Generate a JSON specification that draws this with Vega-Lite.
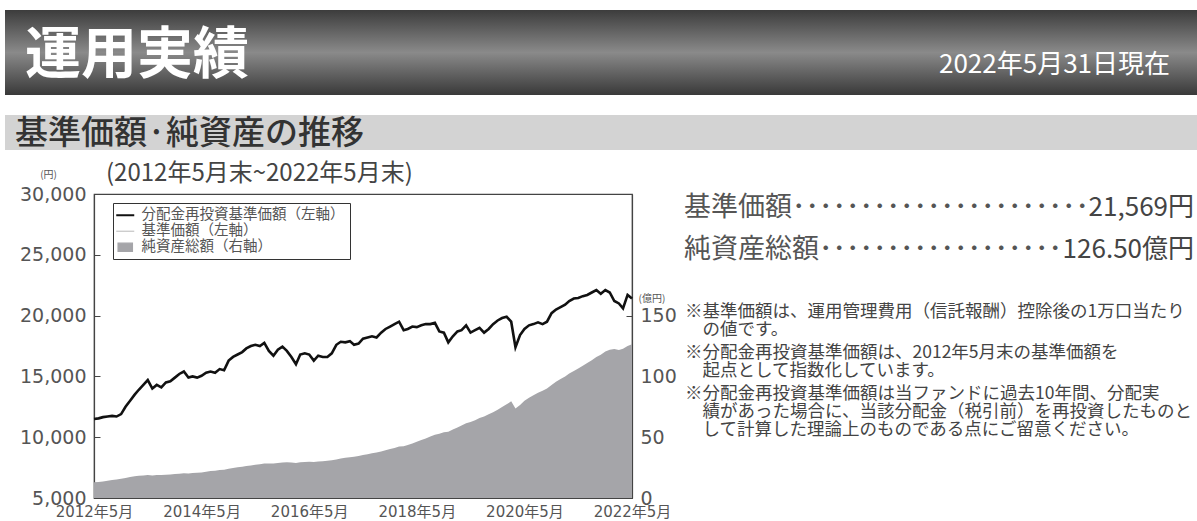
{
  "$schema": "https://vega.github.io/schema/vega-lite/v6.json",
  "padding": {"left": 5, "top": 10, "right": 0, "bottom": 0},
  "background": "white",
  "config": {
    "font": "Noto Sans CJK JP",
    "view": {"stroke": null},
    "title": {"fontWeight": "normal"}
  },
  "datasets": {
    "header": [
      {"role": "title", "text": "運用実績"},
      {"role": "date", "text": "2022年5月31日現在"}
    ],
    "sub": [{"text": "基準価額·純資産の推移"}],
    "summary": [
      {"label": "基準価額", "leader": "基準価額･･････････････････････", "value": "21,569円"},
      {"label": "純資産総額", "leader": "純資産総額･･････････････････", "value": "126.50億円"}
    ],
    "notes": [
      {"note": 1, "lines": ["※基準価額は、運用管理費用（信託報酬）控除後の1万口当たり", "\u200b\u3000の値です。"]},
      {"note": 2, "lines": ["※分配金再投資基準価額は、2012年5月末の基準価額を", "\u200b\u3000起点として指数化しています。"]},
      {"note": 3, "lines": ["※分配金再投資基準価額は当ファンドに過去10年間、分配実", "\u200b\u3000績があった場合に、当該分配金（税引前）を再投資したものと", "\u200b\u3000して計算した理論上のものである点にご留意ください。"]}
    ],
    "perf": [
      {"date": "2012-05-01", "reinvest": 11500, "nav": 11500, "assets": 13.0},
      {"date": "2012-06-01", "reinvest": 11550, "nav": 11550, "assets": 13.2},
      {"date": "2012-07-01", "reinvest": 11650, "nav": 11650, "assets": 13.5},
      {"date": "2012-08-01", "reinvest": 11700, "nav": 11700, "assets": 14.2},
      {"date": "2012-09-01", "reinvest": 11750, "nav": 11750, "assets": 14.8},
      {"date": "2012-10-01", "reinvest": 11700, "nav": 11700, "assets": 15.3},
      {"date": "2012-11-01", "reinvest": 11900, "nav": 11900, "assets": 15.8},
      {"date": "2012-12-01", "reinvest": 12500, "nav": 12500, "assets": 16.5},
      {"date": "2013-01-01", "reinvest": 13000, "nav": 13000, "assets": 17.2},
      {"date": "2013-02-01", "reinvest": 13500, "nav": 13500, "assets": 17.8},
      {"date": "2013-03-01", "reinvest": 13900, "nav": 13900, "assets": 18.3},
      {"date": "2013-04-01", "reinvest": 14300, "nav": 14300, "assets": 18.6},
      {"date": "2013-05-01", "reinvest": 14700, "nav": 14700, "assets": 19.0},
      {"date": "2013-06-01", "reinvest": 14000, "nav": 14000, "assets": 18.6},
      {"date": "2013-07-01", "reinvest": 14300, "nav": 14300, "assets": 18.9},
      {"date": "2013-08-01", "reinvest": 14100, "nav": 14100, "assets": 19.0},
      {"date": "2013-09-01", "reinvest": 14500, "nav": 14500, "assets": 19.2},
      {"date": "2013-10-01", "reinvest": 14600, "nav": 14600, "assets": 19.4},
      {"date": "2013-11-01", "reinvest": 14900, "nav": 14900, "assets": 19.7},
      {"date": "2013-12-01", "reinvest": 15200, "nav": 15200, "assets": 20.0},
      {"date": "2014-01-01", "reinvest": 15400, "nav": 15400, "assets": 20.3},
      {"date": "2014-02-01", "reinvest": 14900, "nav": 14900, "assets": 20.2},
      {"date": "2014-03-01", "reinvest": 15000, "nav": 15000, "assets": 20.5},
      {"date": "2014-04-01", "reinvest": 14900, "nav": 14900, "assets": 20.7},
      {"date": "2014-05-01", "reinvest": 15050, "nav": 15050, "assets": 21.0},
      {"date": "2014-06-01", "reinvest": 15300, "nav": 15300, "assets": 21.6},
      {"date": "2014-07-01", "reinvest": 15400, "nav": 15400, "assets": 22.2},
      {"date": "2014-08-01", "reinvest": 15300, "nav": 15300, "assets": 22.5},
      {"date": "2014-09-01", "reinvest": 15600, "nav": 15600, "assets": 23.0},
      {"date": "2014-10-01", "reinvest": 15500, "nav": 15500, "assets": 23.3},
      {"date": "2014-11-01", "reinvest": 16300, "nav": 16300, "assets": 24.0},
      {"date": "2014-12-01", "reinvest": 16600, "nav": 16600, "assets": 24.6},
      {"date": "2015-01-01", "reinvest": 16800, "nav": 16800, "assets": 25.2},
      {"date": "2015-02-01", "reinvest": 17000, "nav": 17000, "assets": 25.7},
      {"date": "2015-03-01", "reinvest": 17300, "nav": 17300, "assets": 26.3},
      {"date": "2015-04-01", "reinvest": 17500, "nav": 17500, "assets": 26.8},
      {"date": "2015-05-01", "reinvest": 17600, "nav": 17600, "assets": 27.3},
      {"date": "2015-06-01", "reinvest": 17500, "nav": 17500, "assets": 27.8},
      {"date": "2015-07-01", "reinvest": 17750, "nav": 17750, "assets": 28.3},
      {"date": "2015-08-01", "reinvest": 17100, "nav": 17100, "assets": 28.4},
      {"date": "2015-09-01", "reinvest": 16700, "nav": 16700, "assets": 28.3},
      {"date": "2015-10-01", "reinvest": 17200, "nav": 17200, "assets": 28.8},
      {"date": "2015-11-01", "reinvest": 17450, "nav": 17450, "assets": 29.2},
      {"date": "2015-12-01", "reinvest": 17100, "nav": 17100, "assets": 29.3},
      {"date": "2016-01-01", "reinvest": 16600, "nav": 16600, "assets": 29.2},
      {"date": "2016-02-01", "reinvest": 16000, "nav": 16000, "assets": 28.8},
      {"date": "2016-03-01", "reinvest": 16800, "nav": 16800, "assets": 29.3},
      {"date": "2016-04-01", "reinvest": 16900, "nav": 16900, "assets": 29.6},
      {"date": "2016-05-01", "reinvest": 16800, "nav": 16800, "assets": 29.8},
      {"date": "2016-06-01", "reinvest": 16300, "nav": 16300, "assets": 29.6},
      {"date": "2016-07-01", "reinvest": 16700, "nav": 16700, "assets": 30.0},
      {"date": "2016-08-01", "reinvest": 16600, "nav": 16600, "assets": 30.3},
      {"date": "2016-09-01", "reinvest": 16600, "nav": 16600, "assets": 30.6},
      {"date": "2016-10-01", "reinvest": 16900, "nav": 16900, "assets": 31.0},
      {"date": "2016-11-01", "reinvest": 17600, "nav": 17600, "assets": 31.6},
      {"date": "2016-12-01", "reinvest": 17850, "nav": 17850, "assets": 32.4},
      {"date": "2017-01-01", "reinvest": 17800, "nav": 17800, "assets": 33.0},
      {"date": "2017-02-01", "reinvest": 17900, "nav": 17900, "assets": 33.6},
      {"date": "2017-03-01", "reinvest": 17600, "nav": 17600, "assets": 34.0},
      {"date": "2017-04-01", "reinvest": 17700, "nav": 17700, "assets": 34.6},
      {"date": "2017-05-01", "reinvest": 18100, "nav": 18100, "assets": 35.3},
      {"date": "2017-06-01", "reinvest": 18200, "nav": 18200, "assets": 36.0},
      {"date": "2017-07-01", "reinvest": 18300, "nav": 18300, "assets": 36.8},
      {"date": "2017-08-01", "reinvest": 18200, "nav": 18200, "assets": 37.5},
      {"date": "2017-09-01", "reinvest": 18600, "nav": 18600, "assets": 38.3},
      {"date": "2017-10-01", "reinvest": 18900, "nav": 18900, "assets": 39.2},
      {"date": "2017-11-01", "reinvest": 19100, "nav": 19100, "assets": 40.2},
      {"date": "2017-12-01", "reinvest": 19300, "nav": 19300, "assets": 41.2},
      {"date": "2018-01-01", "reinvest": 19500, "nav": 19500, "assets": 42.3},
      {"date": "2018-02-01", "reinvest": 18800, "nav": 18800, "assets": 42.5},
      {"date": "2018-03-01", "reinvest": 18900, "nav": 18900, "assets": 43.5},
      {"date": "2018-04-01", "reinvest": 19100, "nav": 19100, "assets": 44.8},
      {"date": "2018-05-01", "reinvest": 19050, "nav": 19050, "assets": 46.3},
      {"date": "2018-06-01", "reinvest": 19200, "nav": 19200, "assets": 47.6},
      {"date": "2018-07-01", "reinvest": 19300, "nav": 19300, "assets": 49.0},
      {"date": "2018-08-01", "reinvest": 19300, "nav": 19300, "assets": 50.5},
      {"date": "2018-09-01", "reinvest": 19400, "nav": 19400, "assets": 52.0},
      {"date": "2018-10-01", "reinvest": 18700, "nav": 18700, "assets": 52.8},
      {"date": "2018-11-01", "reinvest": 18600, "nav": 18600, "assets": 54.0},
      {"date": "2018-12-01", "reinvest": 17800, "nav": 17800, "assets": 54.5},
      {"date": "2019-01-01", "reinvest": 18300, "nav": 18300, "assets": 56.3},
      {"date": "2019-02-01", "reinvest": 18700, "nav": 18700, "assets": 58.0},
      {"date": "2019-03-01", "reinvest": 18800, "nav": 18800, "assets": 59.6},
      {"date": "2019-04-01", "reinvest": 19200, "nav": 19200, "assets": 61.4},
      {"date": "2019-05-01", "reinvest": 18600, "nav": 18600, "assets": 62.5},
      {"date": "2019-06-01", "reinvest": 18800, "nav": 18800, "assets": 64.0},
      {"date": "2019-07-01", "reinvest": 19000, "nav": 19000, "assets": 65.8},
      {"date": "2019-08-01", "reinvest": 18600, "nav": 18600, "assets": 67.0},
      {"date": "2019-09-01", "reinvest": 18900, "nav": 18900, "assets": 68.8},
      {"date": "2019-10-01", "reinvest": 19300, "nav": 19300, "assets": 70.6},
      {"date": "2019-11-01", "reinvest": 19600, "nav": 19600, "assets": 72.6},
      {"date": "2019-12-01", "reinvest": 19800, "nav": 19800, "assets": 74.8},
      {"date": "2020-01-01", "reinvest": 19900, "nav": 19900, "assets": 77.0},
      {"date": "2020-02-01", "reinvest": 19500, "nav": 19500, "assets": 79.5},
      {"date": "2020-03-01", "reinvest": 17400, "nav": 17400, "assets": 73.5},
      {"date": "2020-04-01", "reinvest": 18400, "nav": 18400, "assets": 76.5},
      {"date": "2020-05-01", "reinvest": 18900, "nav": 18900, "assets": 80.0},
      {"date": "2020-06-01", "reinvest": 19200, "nav": 19200, "assets": 82.5},
      {"date": "2020-07-01", "reinvest": 19300, "nav": 19300, "assets": 84.5},
      {"date": "2020-08-01", "reinvest": 19450, "nav": 19450, "assets": 86.5},
      {"date": "2020-09-01", "reinvest": 19300, "nav": 19300, "assets": 88.3},
      {"date": "2020-10-01", "reinvest": 19500, "nav": 19500, "assets": 90.0},
      {"date": "2020-11-01", "reinvest": 20200, "nav": 20200, "assets": 93.0},
      {"date": "2020-12-01", "reinvest": 20500, "nav": 20500, "assets": 95.5},
      {"date": "2021-01-01", "reinvest": 20700, "nav": 20700, "assets": 97.8},
      {"date": "2021-02-01", "reinvest": 20900, "nav": 20900, "assets": 100.0},
      {"date": "2021-03-01", "reinvest": 21200, "nav": 21200, "assets": 102.3},
      {"date": "2021-04-01", "reinvest": 21400, "nav": 21400, "assets": 104.5},
      {"date": "2021-05-01", "reinvest": 21450, "nav": 21450, "assets": 106.5},
      {"date": "2021-06-01", "reinvest": 21600, "nav": 21600, "assets": 108.8},
      {"date": "2021-07-01", "reinvest": 21700, "nav": 21700, "assets": 111.0},
      {"date": "2021-08-01", "reinvest": 21900, "nav": 21900, "assets": 113.3},
      {"date": "2021-09-01", "reinvest": 22100, "nav": 22100, "assets": 116.0},
      {"date": "2021-10-01", "reinvest": 21800, "nav": 21800, "assets": 117.8},
      {"date": "2021-11-01", "reinvest": 22100, "nav": 22100, "assets": 120.5},
      {"date": "2021-12-01", "reinvest": 21900, "nav": 21900, "assets": 122.0},
      {"date": "2022-01-01", "reinvest": 21200, "nav": 21200, "assets": 122.5},
      {"date": "2022-02-01", "reinvest": 21000, "nav": 21000, "assets": 121.8},
      {"date": "2022-03-01", "reinvest": 20600, "nav": 20600, "assets": 122.8},
      {"date": "2022-04-01", "reinvest": 21700, "nav": 21700, "assets": 125.0},
      {"date": "2022-05-01", "reinvest": 21400, "nav": 21400, "assets": 126.5}
    ]
  },
  "spacing": 10,
  "vconcat": [
    {
      "spacing": 20,
      "vconcat": [
        {
          "width": 1192,
          "height": 85,
          "view": {"stroke": null, "fill": {"gradient": "linear", "x1": 0, "y1": 0, "x2": 0, "y2": 1, "stops": [{"offset": 0, "color": "#3c3c3c"}, {"offset": 0.5, "color": "#8a8a8a"}, {"offset": 1, "color": "#393939"}]}},
          "data": {"name": "header"},
          "layer": [
            {
              "transform": [{"filter": "datum.role === 'title'"}],
              "mark": {"type": "text", "align": "left", "baseline": "middle", "fontSize": 56, "fontWeight": "bold", "fill": "white", "dx": 20, "dy": 3},
              "encoding": {
                "x": {"datum": 0, "type": "quantitative", "scale": {"domain": [0, 1], "nice": false}, "axis": null},
                "text": {"field": "text"}
              }
            },
            {
              "transform": [{"filter": "datum.role === 'date'"}],
              "mark": {"type": "text", "align": "right", "baseline": "middle", "fontSize": 26, "fill": "white", "dx": -27, "dy": 12},
              "encoding": {
                "x": {"datum": 1, "type": "quantitative", "scale": {"domain": [0, 1], "nice": false}, "axis": null},
                "text": {"field": "text"}
              }
            }
          ]
        },
        {
          "width": 1192,
          "height": 35,
          "view": {"stroke": null, "fill": "#d3d3d3"},
          "data": {"name": "sub"},
          "mark": {"type": "text", "align": "left", "baseline": "middle", "fontSize": 33, "fontWeight": 500, "fill": "#333", "dx": 10, "dy": 1},
          "encoding": {
            "x": {"datum": 0, "type": "quantitative", "scale": {"domain": [0, 1], "nice": false}, "axis": null},
            "text": {"field": "text"}
          }
        }
      ]
    },
    {
      "spacing": 0,
      "hconcat": [
        {
          "width": 13,
          "height": 10,
          "data": {"values": [{}]},
          "mark": {"type": "text", "text": ""}
        },
        {
          "width": 538,
          "height": 304,
          "title": {"text": "(2012年5月末~2022年5月末)", "anchor": "start", "frame": "group", "fontSize": 24, "color": "#444", "dx": 12, "offset": -17, "font": "Noto Sans CJK JP"},
          "view": {"stroke": "#444", "strokeWidth": 1.2},
          "data": {"name": "perf"},
          "encoding": {
            "x": {
              "field": "date",
              "type": "temporal",
              "scale": {"type": "utc", "domain": [{"year": 2012, "month": 5, "date": 1, "utc": true}, {"year": 2022, "month": 5, "date": 1, "utc": true}]},
              "axis": {
                "title": null,
                "values": [{"year": 2012, "month": 5, "date": 1, "utc": true}, {"year": 2014, "month": 5, "date": 1, "utc": true}, {"year": 2016, "month": 5, "date": 1, "utc": true}, {"year": 2018, "month": 5, "date": 1, "utc": true}, {"year": 2020, "month": 5, "date": 1, "utc": true}, {"year": 2022, "month": 5, "date": 1, "utc": true}],
                "format": "%Y年%-m月",
                "grid": false,
                "domainColor": "#444",
                "domainWidth": 1.2,
                "tickColor": "#444",
                "tickSize": -6,
                "labelPadding": 12,
                "labelFontSize": 15,
                "labelFont": "DejaVu Sans, Noto Sans CJK JP",
                "labelColor": "#555",
                "labelOverlap": false,
                "labelFlush": false
              }
            }
          },
          "layer": [
            {
              "mark": {"type": "area", "color": "#a5a5a9", "opacity": 1},
              "encoding": {
                "y": {
                  "field": "assets",
                  "type": "quantitative",
                  "scale": {"domain": [0, 250], "nice": false},
                  "axis": {
                    "orient": "right",
                    "title": "(億円)",
                    "titleAngle": 0,
                    "titleX": 6,
                    "titleY": 104,
                    "titleAlign": "left",
                    "titleBaseline": "middle",
                    "titleFontSize": 10,
                    "titleFontWeight": "normal",
                    "titleColor": "#555",
                    "values": [0, 50, 100, 150],
                    "format": ".0f",
                    "grid": false,
                    "domainColor": "#444",
                    "domainWidth": 1.2,
                    "tickColor": "#444",
                    "tickSize": -6,
                    "labelPadding": 14,
                    "labelFontSize": 19,
                    "labelFont": "DejaVu Sans",
                    "labelColor": "#555"
                  }
                },
                "color": {
                  "datum": "純資産総額（右軸）",
                  "scale": {"domain": ["分配金再投資基準価額（左軸）", "基準価額（左軸）", "純資産総額（右軸）"], "range": ["#111111", "#c4c4c4", "#a5a5a9"]},
                  "legend": {
                    "orient": "none",
                    "legendX": 108,
                    "legendY": 193,
                    "title": null,
                    "direction": "vertical",
                    "strokeColor": "#333",
                    "fillColor": "white",
                    "padding": 5,
                    "labelFontSize": 14.5,
                    "labelColor": "#555",
                    "labelFont": "Noto Sans CJK JP",
                    "labelLimit": 400,
                    "labelOffset": 9,
                    "rowPadding": 1,
                    "symbolType": "stroke",
                    "symbolSize": 324,
                    "encode": {
                      "symbols": {
                        "update": {
                          "shape": {"signal": "datum.value === '純資産総額（右軸）' ? 'M-0.8,-0.45H0.8V0.45H-0.8Z' : 'stroke'"},
                          "size": {"value": 324},
                          "fill": {"signal": "datum.value === '純資産総額（右軸）' ? '#a5a5a9' : 'transparent'"},
                          "stroke": {"signal": "datum.value === '純資産総額（右軸）' ? 'transparent' : (datum.value === '基準価額（左軸）' ? '#b8b8b8' : '#111111')"},
                          "strokeWidth": {"signal": "datum.value === '分配金再投資基準価額（左軸）' ? 2 : 1.2"},
                          "opacity": {"value": 1}
                        }
                      }
                    }
                  }
                }
              }
            },
            {
              "layer": [
                {
                  "mark": {"type": "line", "strokeWidth": 1},
                  "encoding": {
                    "y": {
                      "field": "nav",
                      "type": "quantitative",
                      "title": "(円)",
                      "scale": {"domain": [5000, 30000], "nice": false},
                      "axis": {
                        "orient": "left",
                        "titleAngle": 0,
                        "titleX": -46,
                        "titleY": -20,
                        "titleAlign": "center",
                        "titleBaseline": "middle",
                        "titleFontSize": 10,
                        "titleFontWeight": "normal",
                        "titleColor": "#555",
                        "values": [5000, 10000, 15000, 20000, 25000, 30000],
                        "format": ",.0f",
                        "grid": false,
                        "domainColor": "#444",
                        "domainWidth": 1.2,
                        "tickColor": "#444",
                        "tickSize": -6,
                        "labelPadding": 14,
                        "labelFontSize": 19,
                        "labelFont": "DejaVu Sans",
                        "labelColor": "#555"
                      }
                    },
                    "color": {
                      "datum": "基準価額（左軸）",
                      "legend": {
                        "orient": "none",
                        "legendX": 108,
                        "legendY": 193,
                        "title": null,
                        "direction": "vertical",
                        "strokeColor": "#333",
                        "fillColor": "white",
                        "padding": 5,
                        "labelFontSize": 14.5,
                        "labelColor": "#555",
                        "labelFont": "Noto Sans CJK JP",
                        "labelLimit": 400,
                        "labelOffset": 9,
                        "rowPadding": 1,
                        "symbolType": "stroke",
                        "symbolSize": 324,
                        "encode": {
                          "symbols": {
                            "update": {
                              "shape": {"signal": "datum.value === '純資産総額（右軸）' ? 'M-0.8,-0.45H0.8V0.45H-0.8Z' : 'stroke'"},
                              "size": {"value": 324},
                              "fill": {"signal": "datum.value === '純資産総額（右軸）' ? '#a5a5a9' : 'transparent'"},
                              "stroke": {"signal": "datum.value === '純資産総額（右軸）' ? 'transparent' : (datum.value === '基準価額（左軸）' ? '#b8b8b8' : '#111111')"},
                              "strokeWidth": {"signal": "datum.value === '分配金再投資基準価額（左軸）' ? 2 : 1.2"},
                              "opacity": {"value": 1}
                            }
                          }
                        }
                      }
                    }
                  }
                },
                {
                  "mark": {"type": "line", "strokeWidth": 2.6},
                  "encoding": {
                    "y": {"field": "reinvest", "type": "quantitative", "title": "(円)"},
                    "color": {
                      "datum": "分配金再投資基準価額（左軸）",
                      "legend": {
                        "orient": "none",
                        "legendX": 108,
                        "legendY": 193,
                        "title": null,
                        "direction": "vertical",
                        "strokeColor": "#333",
                        "fillColor": "white",
                        "padding": 5,
                        "labelFontSize": 14.5,
                        "labelColor": "#555",
                        "labelFont": "Noto Sans CJK JP",
                        "labelLimit": 400,
                        "labelOffset": 9,
                        "rowPadding": 1,
                        "symbolType": "stroke",
                        "symbolSize": 324,
                        "encode": {
                          "symbols": {
                            "update": {
                              "shape": {"signal": "datum.value === '純資産総額（右軸）' ? 'M-0.8,-0.45H0.8V0.45H-0.8Z' : 'stroke'"},
                              "size": {"value": 324},
                              "fill": {"signal": "datum.value === '純資産総額（右軸）' ? '#a5a5a9' : 'transparent'"},
                              "stroke": {"signal": "datum.value === '純資産総額（右軸）' ? 'transparent' : (datum.value === '基準価額（左軸）' ? '#b8b8b8' : '#111111')"},
                              "strokeWidth": {"signal": "datum.value === '分配金再投資基準価額（左軸）' ? 2 : 1.2"},
                              "opacity": {"value": 1}
                            }
                          }
                        }
                      }
                    }
                  }
                }
              ]
            }
          ],
          "resolve": {"scale": {"y": "independent"}}
        },
        {
          "width": 519,
          "height": 330,
          "layer": [
            {
              "data": {"name": "summary"},
              "mark": {"type": "text", "align": "left", "baseline": "middle", "fontSize": 27, "fill": "#555", "dx": 7},
              "encoding": {
                "x": {"datum": 0, "type": "quantitative", "scale": {"domain": [0, 1], "nice": false}, "axis": null},
                "y": {"field": "label", "type": "nominal", "scale": {"type": "point", "domain": ["基準価額", "純資産総額"], "range": [14, 56], "padding": 0}, "axis": null},
                "text": {"field": "leader"}
              }
            },
            {
              "data": {"name": "summary"},
              "mark": {"type": "text", "align": "right", "baseline": "middle", "fontSize": 26, "fill": "#444", "dx": -2},
              "encoding": {
                "x": {"datum": 1, "type": "quantitative", "scale": {"domain": [0, 1], "nice": false}, "axis": null},
                "y": {"field": "label", "type": "nominal", "scale": {"type": "point", "domain": ["基準価額", "純資産総額"], "range": [14, 56], "padding": 0}, "axis": null},
                "text": {"field": "value"}
              }
            },
            {
              "data": {"name": "notes"},
              "mark": {"type": "text", "align": "left", "baseline": "top", "fontSize": 17.5, "lineHeight": 18, "fill": "#444", "dx": 8},
              "encoding": {
                "x": {"datum": 0, "type": "quantitative", "scale": {"domain": [0, 1], "nice": false}, "axis": null},
                "y": {"field": "note", "type": "ordinal", "scale": {"type": "point", "range": [109, 191], "padding": 0}, "axis": null},
                "text": {"field": "lines"}
              }
            }
          ],
          "resolve": {"scale": {"y": "independent"}}
        }
      ]
    }
  ]
}
